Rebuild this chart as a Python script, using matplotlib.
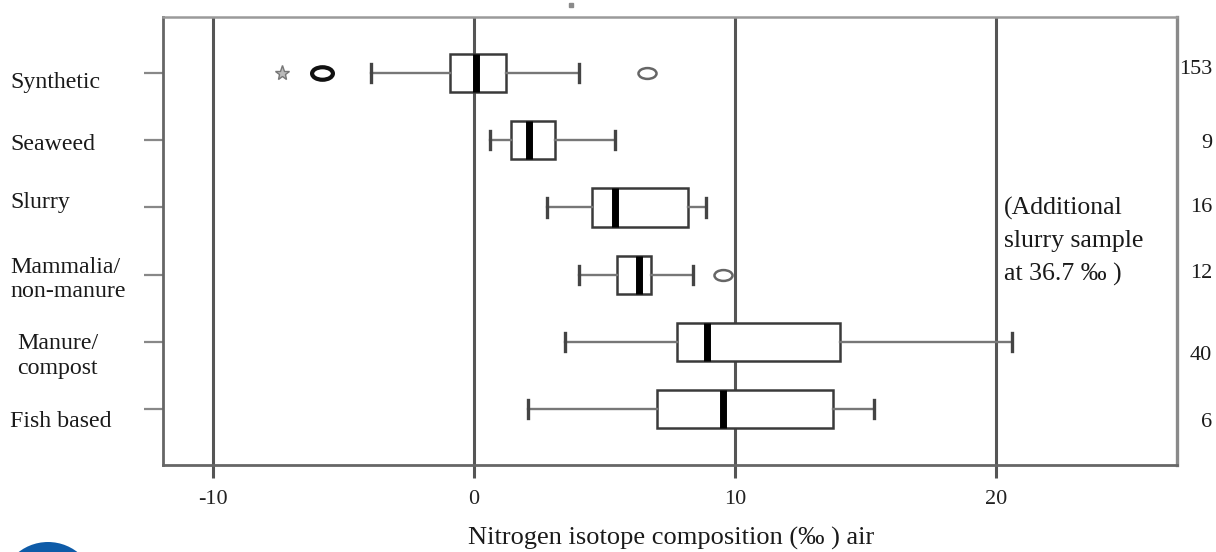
import matplotlib
matplotlib.use("Agg")
import matplotlib.pyplot as plt
from matplotlib.path import Path
from matplotlib.transforms import Affine2D, blended_transform_factory, ScaledTranslation
from matplotlib.patches import Ellipse

# ---------------- data ----------------
categories = ["Synthetic", "Seaweed", "Slurry", "Mammalia/\nnon-manure",
              "Manure/\ncompost", "Fish based"]
n_samples = ["153", "9", "16", "12", "40", "6"]
whisker_low = [-3.96, 0.61, 2.80, 4.02, 3.48, 2.06]
q1 = [-0.92, 1.41, 4.52, 5.49, 7.79, 7.00]
median = [0.08, 2.09, 5.38, 6.31, 8.94, 9.55]
q3 = [1.23, 3.11, 8.19, 6.78, 14.00, 13.74]
whisker_high = [4.00, 5.41, 8.88, 8.40, 20.60, 15.34]

outlier_cat = [0, 0, 3]
outlier_val = [-5.83, 6.63, 9.52]
outlier_bold = [True, False, False]
extreme_cat = [0]
extreme_val = [-7.36]
stray_val = [3.73]          # small mark printed just above the frame

x_ticks = [-10, 0, 10, 20]
x_label = "Nitrogen isotope composition (‰ ) air"
note_lines = ["(Additional", "slurry sample", "at 36.7 ‰ )"]

# ---------------- figure ----------------
W, H = 1216, 552
fig = plt.figure(figsize=(W / 100, H / 100), dpi=100)
ax = fig.add_axes([163 / W, 1 - 465 / H, (1177 - 163) / W, (465 - 17) / H])

serif = ["Liberation Serif", "DejaVu Serif"]
plt.rcParams["font.family"] = serif

positions = list(range(1, len(categories) + 1))
stats = []
for i in range(len(categories)):
    stats.append(dict(whislo=whisker_low[i], q1=q1[i], med=median[i],
                      q3=q3[i], whishi=whisker_high[i], fliers=[]))

ax.bxp(stats, positions=positions, orientation="horizontal", widths=0.57,
       capwidths=0.27, showfliers=False, patch_artist=True,
       boxprops=dict(facecolor="white", edgecolor="#3a3a3a", linewidth=1.8),
       medianprops=dict(color="black", linewidth=5, solid_capstyle="butt"),
       whiskerprops=dict(color="#777777", linewidth=1.7),
       capprops=dict(color="#444444", linewidth=2.4),
       zorder=3)

# outliers (ellipse-shaped circles, as in the original print)
ell = Path.unit_circle().transformed(Affine2D().scale(1.0, 0.6))
for c, v, b in zip(outlier_cat, outlier_val, outlier_bold):
    ax.plot([v], [positions[c]], linestyle="none", marker=ell,
            markersize=15 if b else 13, markerfacecolor="white",
            markeredgecolor="#111111" if b else "#666666",
            markeredgewidth=3.0 if b else 1.8, zorder=4)
for c, v in zip(extreme_cat, extreme_val):
    ax.plot([v], [positions[c]], linestyle="none", marker="*", markersize=11,
            markerfacecolor="#bbbbbb", markeredgecolor="#777777",
            markeredgewidth=1.0, zorder=4)
for v in stray_val:
    ax.plot([v], [-0.01], linestyle="none", marker="s", markersize=3,
            color="#8a8a8a", clip_on=False, zorder=4)

# axes limits and frame
ax.set_xlim(-11.92, 26.93)
ax.set_ylim(6.83, 0.167)
for side in ["left", "bottom"]:
    ax.spines[side].set_color("#666666")
    ax.spines[side].set_linewidth(2.0)
ax.spines["top"].set_color("#9a9a9a")
ax.spines["top"].set_linewidth(1.8)
ax.spines["right"].set_color("#8a8a8a")
ax.spines["right"].set_linewidth(2.4)

# x grid / ticks
ax.set_xticks(x_ticks)
ax.set_xticklabels([str(t) for t in x_ticks], fontsize=16, family=serif)
ax.tick_params(axis="x", length=9, width=2.2, color="#555555", pad=9,
               labelcolor="#222222")
ax.grid(axis="x", color="#555555", linewidth=2.2, zorder=0)
ax.grid(axis="y", visible=False)
ax.set_axisbelow(True)

# y ticks
ax.set_yticks(positions)
ax.set_yticklabels([""] * len(positions))
ax.tick_params(axis="y", length=14, width=1.6, color="#888888")

# category labels (left-aligned at the page edge)
label_dy_px = [9, 4, -5, 5, 14, 12]
lbl_tr = blended_transform_factory(fig.transFigure, ax.transData)
for i, (cat, dy) in enumerate(zip(categories, label_dy_px)):
    xoff = 17 if cat.startswith("Manure") else 10
    ax.text(xoff / W, positions[i], cat,
            transform=lbl_tr + ScaledTranslation(0, -dy / 100, fig.dpi_scale_trans),
            ha="left", va="center", fontsize=17.2, color="#1a1a1a",
            family=serif, linespacing=1.2)

# sample counts on the right
count_dy_px = [-4, 3, 0, -1, 14, 13]
for i, (n, dy) in enumerate(zip(n_samples, count_dy_px)):
    ax.text(1212 / W, positions[i], n,
            transform=lbl_tr + ScaledTranslation(0, -dy / 100, fig.dpi_scale_trans),
            ha="right", va="center", fontsize=16, color="#1a1a1a", family=serif)

# note about the extra slurry sample
note_y_px = [208, 241, 274]
for line, yp in zip(note_lines, note_y_px):
    fig.text(1004 / W, 1 - yp / H, line, ha="left", va="center",
             fontsize=18.5, color="#1a1a1a", family=serif)

# x-axis label
fig.text(671 / W, 1 - 538 / H, x_label, ha="center", va="center",
         fontsize=19, color="#1a1a1a", family=serif)

# fragment of the publisher logo at the bottom-left corner
fig.add_artist(Ellipse((48 / W, 1 - 590 / H), 96 / W, 96 / H,
                       transform=fig.transFigure, facecolor="#0e5ba8",
                       edgecolor="none"))

fig.savefig("out.png", dpi=100, facecolor="white")
